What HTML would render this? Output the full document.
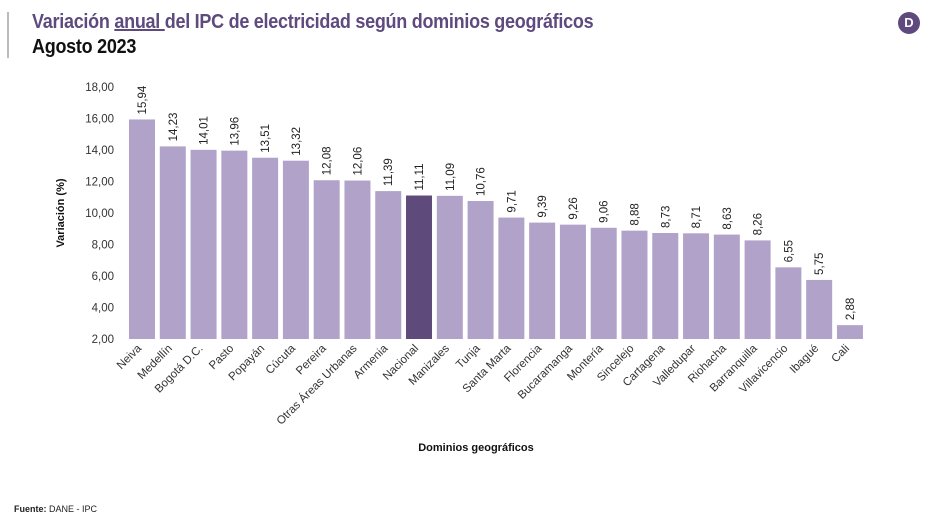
<!DOCTYPE html>
<html><head><meta charset="utf-8"><style>
body{margin:0;width:933px;height:517px;background:#fff;overflow:hidden;font-family:"Liberation Sans",sans-serif;position:relative}
.t{position:absolute;left:32px;font-weight:bold;font-family:"Liberation Sans Narrow","Liberation Sans",sans-serif;letter-spacing:-0.3px;transform:scaleX(0.9);transform-origin:0 0;white-space:nowrap}
</style></head><body>
<div style="position:absolute;left:7px;top:12px;width:2px;height:46px;background:#bbb"></div>
<div class="t" style="top:11px;font-size:20px;color:#5e4a7e">Variación <u>anual </u>del IPC de electricidad según dominios geográficos</div>
<div class="t" style="top:36px;font-size:20px;color:#111">Agosto 2023</div>
<div style="position:absolute;left:898px;top:12px;width:22px;height:22px;border-radius:50%;background:#5e4a7e;color:#fff;font-size:13px;font-weight:bold;text-align:center;line-height:22px">D</div>
<div style="position:absolute;left:14px;top:504px;font-size:9px;color:#222"><b>Fuente:</b> DANE - IPC</div>
<svg id="chart" width="933" height="517" style="position:absolute;left:0;top:0"></svg>
<script>
const categories=["Neiva","Medellín","Bogotá D.C.","Pasto","Popayán","Cúcuta","Pereira","Otras Áreas Urbanas","Armenia","Nacional","Manizales","Tunja","Santa Marta","Florencia","Bucaramanga","Montería","Sincelejo","Cartagena","Valledupar","Riohacha","Barranquilla","Villavicencio","Ibagué","Cali"];
const values=[15.94,14.23,14.01,13.96,13.51,13.32,12.08,12.06,11.39,11.11,11.09,10.76,9.71,9.39,9.26,9.06,8.88,8.73,8.71,8.63,8.26,6.55,5.75,2.88];
const valueLabels=["15,94","14,23","14,01","13,96","13,51","13,32","12,08","12,06","11,39","11,11","11,09","10,76","9,71","9,39","9,26","9,06","8,88","8,73","8,71","8,63","8,26","6,55","5,75","2,88"];
const yTicks=[2,4,6,8,10,12,14,16,18];
const yTickLabels=["2,00","4,00","6,00","8,00","10,00","12,00","14,00","16,00","18,00"];
const highlight="Nacional";
const svg=document.getElementById('chart');const NS='http://www.w3.org/2000/svg';
const yMin=2,yMax=18,y0=339,y1=87;
const y=v=>y0-(v-yMin)/(yMax-yMin)*(y0-y1);
const pitch=30.78,x0=129,bw=26;
const x=i=>x0+i*pitch;
function mk(t,a){const e=document.createElementNS(NS,t);for(const k in a)e.setAttribute(k,a[k]);svg.appendChild(e);return e;}
yTicks.forEach((v,i)=>{const e=mk('text',{x:114,y:y(v)+4,'text-anchor':'end','font-size':'11.5',fill:'#333'});e.textContent=yTickLabels[i];

});
categories.forEach((c,i)=>{
const r=mk('rect',{x:x(i),y:y(values[i]),width:bw,height:y0-y(values[i]),fill:c===highlight?'#5f4a7c':'#b1a2c9'});


const cx=x(i)+bw/2, ty=y(values[i])-5;
const t=mk('text',{x:cx+4,y:ty,transform:`rotate(-90 ${cx+4} ${ty})`,'font-size':'11.5',fill:'#222'});t.textContent=valueLabels[i];


const lx=cx,ly=349;
const l=mk('text',{x:lx,y:ly,transform:`rotate(-45 ${lx} ${ly})`,'text-anchor':'end','font-size':'11.5',fill:'#333'});l.textContent=c;


});
const yt=mk('text',{x:64,y:213,transform:'rotate(-90 64 213)','text-anchor':'middle','font-size':'11','font-weight':'bold',fill:'#111'});yt.textContent='Variación (%)';


const xt=mk('text',{x:476,y:451,'text-anchor':'middle','font-size':'11','font-weight':'bold',fill:'#111'});xt.textContent='Dominios geográficos';


</script>
</body></html>
